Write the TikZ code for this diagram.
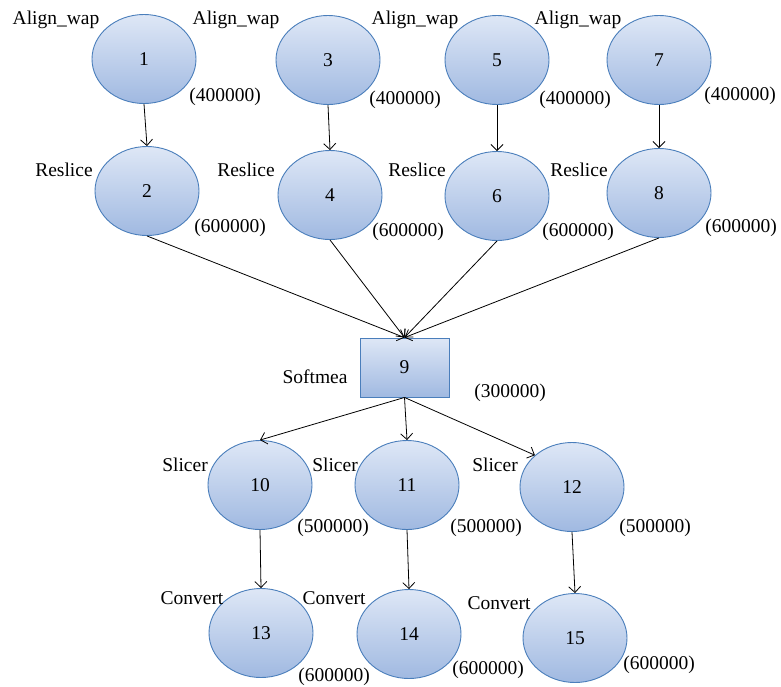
\documentclass[tikz,border=0pt]{standalone}
\usepackage{fontspec}
\setmainfont{Liberation Serif}
\usepackage{tikz}
\usetikzlibrary{shapes.geometric,arrows.meta}
\definecolor{topc}{RGB}{222,231,246}
\definecolor{botc}{RGB}{160,185,225}
\definecolor{edgec}{RGB}{74,126,187}
\begin{document}
\begin{tikzpicture}[x=1pt,y=-1pt,
  every node/.style={font=\fontsize{19.5}{23}\selectfont},
  proc/.style={ellipse,draw=edgec,line width=0.9pt,top color=topc,bottom color=botc,
    minimum width=104pt,minimum height=89pt,inner sep=0pt},
  boxn/.style={rectangle,draw=edgec,line width=0.9pt,top color=topc,bottom color=botc,
    minimum width=89pt,minimum height=59pt,inner sep=0pt},
  lab/.style={inner sep=0pt},
  conn/.style={draw,line width=0.8pt,-{Straight Barb[length=6pt,width=12pt]}}]
\useasboundingbox (0,0) rectangle (781,686);
% nodes
\node[proc] (n1) at (144,59) {1};
\node[proc] (n3) at (328,60) {3};
\node[proc] (n5) at (497,60) {5};
\node[proc] (n7) at (659,60) {7};
\node[proc] (n2) at (147,191) {2};
\node[proc] (n4) at (330,195) {4};
\node[proc] (n6) at (497,196) {6};
\node[proc] (n8) at (659,193) {8};
\node[boxn] (n9) at (404.5,367.5) {9};
\node[proc] (n10) at (260,485) {10};
\node[proc] (n11) at (407,485) {11};
\node[proc] (n12) at (572,487) {12};
\node[proc] (n13) at (261,633) {13};
\node[proc] (n14) at (409,634) {14};
\node[proc] (n15) at (575,638) {15};
% labels
\node[lab] (a1) at (56,20) {Align\_wap};
\node[lab] (a3) at (236,20) {Align\_wap};
\node[lab] (a5) at (415,20) {Align\_wap};
\node[lab] (a7) at (578,20) {Align\_wap};
\node[lab] (c1) at (225,97) {(400000)};
\node[lab] (c3) at (405,100) {(400000)};
\node[lab] (c5) at (575,100) {(400000)};
\node[lab] (c7) at (740,96) {(400000)};
\node[lab] (r2) at (64,170) {Reslice};
\node[lab] (r4) at (246,170) {Reslice};
\node[lab] (r6) at (417,170) {Reslice};
\node[lab] (r8) at (579,170) {Reslice};
\node[lab] (c2) at (230,228) {(600000)};
\node[lab] (c4) at (408,232) {(600000)};
\node[lab] (c6) at (578,232) {(600000)};
\node[lab] (c8) at (741,228) {(600000)};
\node[lab] (s9) at (315,377) {Softmea};
\node[lab] (c9) at (510,393) {(300000)};
\node[lab] (l10) at (185,465) {Slicer};
\node[lab] (l11) at (335,465) {Slicer};
\node[lab] (l12) at (495,465) {Slicer};
\node[lab] (c10) at (333,528) {(500000)};
\node[lab] (c11) at (486,528) {(500000)};
\node[lab] (c12) at (655,528) {(500000)};
\node[lab] (v13) at (192,598) {Convert};
\node[lab] (v14) at (334,598) {Convert};
\node[lab] (v15) at (499,603) {Convert};
\node[lab] (c13) at (334,677) {(600000)};
\node[lab] (c14) at (488,670) {(600000)};
\node[lab] (c15) at (659,665) {(600000)};
% connectors
\draw[conn] (n1.south) -- (n2.north);
\draw[conn] (n3.south) -- (n4.north);
\draw[conn] (n5.south) -- (n6.north);
\draw[conn] (n7.south) -- (n8.north);
\draw[conn] (n2.south) -- (n9.north);
\draw[conn] (n4.south) -- (n9.north);
\draw[conn] (n6.south) -- (n9.north);
\draw[conn] (n8.south) -- (n9.north);
\draw[conn] (n9.south) -- (n10.north);
\draw[conn] (n9.south) -- (n11.north);
\draw[conn] (n9.south) -- (n12.north west);
\draw[conn] (n10.south) -- (n13.north);
\draw[conn] (n11.south) -- (n14.north);
\draw[conn] (n12.south) -- (n15.north);
\end{tikzpicture}
\end{document}
